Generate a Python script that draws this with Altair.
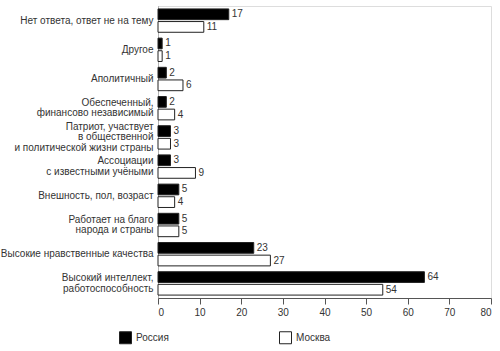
import altair as alt
import pandas as pd

categories = [
    "Нет ответа, ответ не на тему",
    "Другое",
    "Аполитичный",
    "Обеспеченный,|финансово независимый",
    "Патриот, участвует|в общественной|и политической жизни страны",
    "Ассоциации|с известными учёными",
    "Внешность, пол, возраст",
    "Работает на благо|народа и страны",
    "Высокие нравственные качества",
    "Высокий интеллект,|работоспособность",
]
russia = [17, 1, 2, 2, 3, 3, 5, 5, 23, 64]
moscow = [11, 1, 6, 4, 3, 9, 4, 5, 27, 54]
series = ["Россия", "Москва"]
x_ticks = [0, 10, 20, 30, 40, 50, 60, 70, 80]

rows = []
for c, r, m in zip(categories, russia, moscow):
    rows.append({"cat": c, "series": series[0], "value": r})
    rows.append({"cat": c, "series": series[1], "value": m})
df = pd.DataFrame(rows)

FONT = "Liberation Sans"
TXT = "#333333"
LH = 10.5

y_enc = alt.Y(
    "cat:N",
    sort=categories,
    scale=alt.Scale(paddingInner=0.2, paddingOuter=0.1),
    axis=alt.Axis(
        title=None,
        labelExpr="split(datum.label, '|')",
        labelFont=FONT,
        labelFontSize=10,
        labelColor=TXT,
        labelPadding=5,
        labelLineHeight=LH,
        labelOffset={
            "condition": [
                {"test": "length(split(datum.value, '|')) == 3", "value": -LH},
                {"test": "length(split(datum.value, '|')) == 2", "value": -LH / 2},
            ],
            "value": 0,
        },
        ticks=False,
        domainColor="#888888",
        domainDash=[1, 1],
        domainWidth=1,
        labelLimit=300,
    ),
)
yoff = alt.YOffset("series:N", sort=series, scale=alt.Scale(paddingInner=0.15))
x_enc = alt.X(
    "value:Q",
    scale=alt.Scale(domain=[0, 80], nice=False),
    axis=alt.Axis(
        title=None,
        values=x_ticks,
        grid=False,
        tickSize=6,
        tickColor="#555555",
        domainColor="#555555",
        labelFont=FONT,
        labelFontSize=10,
        labelColor=TXT,
        labelPadding=3,
    ),
)

bars = alt.Chart(df).mark_bar(stroke="#222222", strokeWidth=1).encode(
    y=y_enc,
    yOffset=yoff,
    x=x_enc,
    fill=alt.Fill(
        "series:N",
        sort=series,
        scale=alt.Scale(domain=series, range=["#000000", "#ffffff"]),
        legend=alt.Legend(
            title=None,
            orient="none",
            direction="horizontal",
            legendX=-39,
            legendY=325,
            symbolType="square",
            symbolSize=144,
            symbolStrokeColor="#222222",
            symbolStrokeWidth=1,
            labelFont=FONT,
            labelFontSize=10,
            labelColor=TXT,
            labelOffset=4,
            columnPadding=108,
        ),
    ),
)

labels = alt.Chart(df).mark_text(
    align="left", baseline="middle", dx=3, font=FONT, fontSize=10, color=TXT
).encode(
    y=alt.Y("cat:N", sort=categories),
    yOffset=alt.YOffset("series:N", sort=series),
    x=alt.X("value:Q"),
    text=alt.Text("value:Q"),
)

chart = (
    alt.layer(bars, labels)
    .properties(
        width=333,
        height=292,
        autosize=alt.AutoSizeParams(type="none"),
        padding={"left": 158, "top": 6, "right": 9, "bottom": 53},
    )
    .configure_view(stroke=None)
    .configure(background="white")
)

chart.save("out.html", embed_options={"renderer": "svg", "actions": False})
